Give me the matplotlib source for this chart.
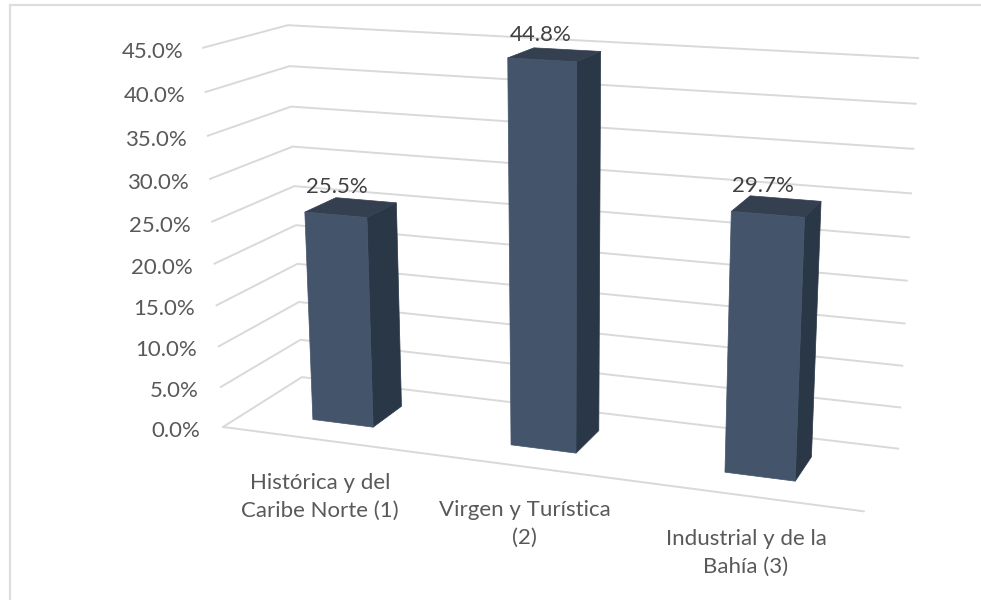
import numpy as np
import matplotlib
matplotlib.use('Agg')
import matplotlib.pyplot as plt
from matplotlib.patches import Polygon

plt.rcParams['font.family'] = 'Lato'

# Chart data
categories = ['Histórica y del\nCaribe Norte (1)', 'Virgen y Turística\n(2)', 'Industrial y de la\nBahía (3)']
values = [25.5, 44.8, 29.7]
value_labels = ['25.5%', '44.8%', '29.7%']
y_ticks = [0, 5, 10, 15, 20, 25, 30, 35, 40, 45]
y_tick_labels = ['0.0%', '5.0%', '10.0%', '15.0%', '20.0%', '25.0%', '30.0%', '35.0%', '40.0%', '45.0%']

# Box corners (category, depth, value) and where they land on the canvas
box_pts = [(0, 0, 0), (0, 1, 0), (3, 1, 0), (3, 0, 0), (0, 0, 45), (0, 1, 45), (3, 1, 45)]
canvas_pts = [(223, 427), (302, 377), (898, 449), (864, 511), (203, 48), (288, 25), (918, 58)]


# Fit the perspective camera from the box corners
def fit_camera(src, dst):
    rows = []
    for (x, z, v), (u, w) in zip(src, dst):
        rows.append([x, z, v, 1, 0, 0, 0, 0, -u * x, -u * z, -u * v, -u])
        rows.append([0, 0, 0, 0, x, z, v, 1, -w * x, -w * z, -w * v, -w])
    return np.linalg.svd(np.array(rows, dtype=float))[2][-1].reshape(3, 4)


cam = fit_camera(box_pts, canvas_pts)


def proj(x, z, v):
    p = cam @ np.array([x, z, v, 1.0])
    return p[0] / p[2], p[1] / p[2]


fig = plt.figure(figsize=(9.81, 6), dpi=100)
ax = fig.add_axes([0, 0, 1, 1])
ax.set_xlim(0, 981)
ax.set_ylim(600, 0)
ax.axis('off')

# Chart frame
ax.plot([9.5, 9.5], [600, 5], color='#dedede', lw=1.6, zorder=1)
ax.plot([9.5, 981], [5, 5], color='#dedede', lw=1.6, zorder=1)

# Gridlines on side and back walls
for v in y_ticks:
    pts = [proj(0, 0, v), proj(0, 1, v), proj(3, 1, v)]
    ax.plot(*zip(*pts), color='#d9d9d9', lw=1.4, solid_joinstyle='miter', zorder=1)
ax.plot(*zip(proj(0, 0, 0), proj(3, 0, 0)), color='#d9d9d9', lw=1.4, zorder=1)

# Bars
half_w = 0.156
z0, z1 = 0.3, 0.7
for i, v in enumerate(values):
    xc = i + 0.5
    x0, x1 = xc - half_w, xc + half_w
    front = [proj(x0, z0, 0), proj(x1, z0, 0), proj(x1, z0, v), proj(x0, z0, v)]
    side = [proj(x1, z0, 0), proj(x1, z1, 0), proj(x1, z1, v), proj(x1, z0, v)]
    top = [proj(x0, z0, v), proj(x1, z0, v), proj(x1, z1, v), proj(x0, z1, v)]
    ax.add_patch(Polygon(side, facecolor='#2a3747', edgecolor='#2a3747', lw=0.5, zorder=2))
    ax.add_patch(Polygon(top, facecolor='#343f50', edgecolor='#343f50', lw=0.5, zorder=2))
    ax.add_patch(Polygon(front, facecolor='#44546a', edgecolor='#44546a', lw=0.5, zorder=2))
    tx, ty = proj(xc, 0.5, v)
    ax.text(tx - 14, ty - 20, value_labels[i], ha='center', va='center', fontsize=16, color='#404040', zorder=3)

# Axis labels
for v, lab in zip(y_ticks, y_tick_labels):
    ax.text(200.5 - v * 0.38, proj(0, 0, v)[1] + 4, lab, ha='right', va='center', fontsize=16, color='#595959')
for i, lab in enumerate(categories):
    tx, ty = proj(i + 0.5, 0, 0)
    ax.text(tx, ty + 57, lab, ha='center', va='center', fontsize=16, color='#595959', linespacing=1.47)

fig.savefig('out.png', dpi=100)
